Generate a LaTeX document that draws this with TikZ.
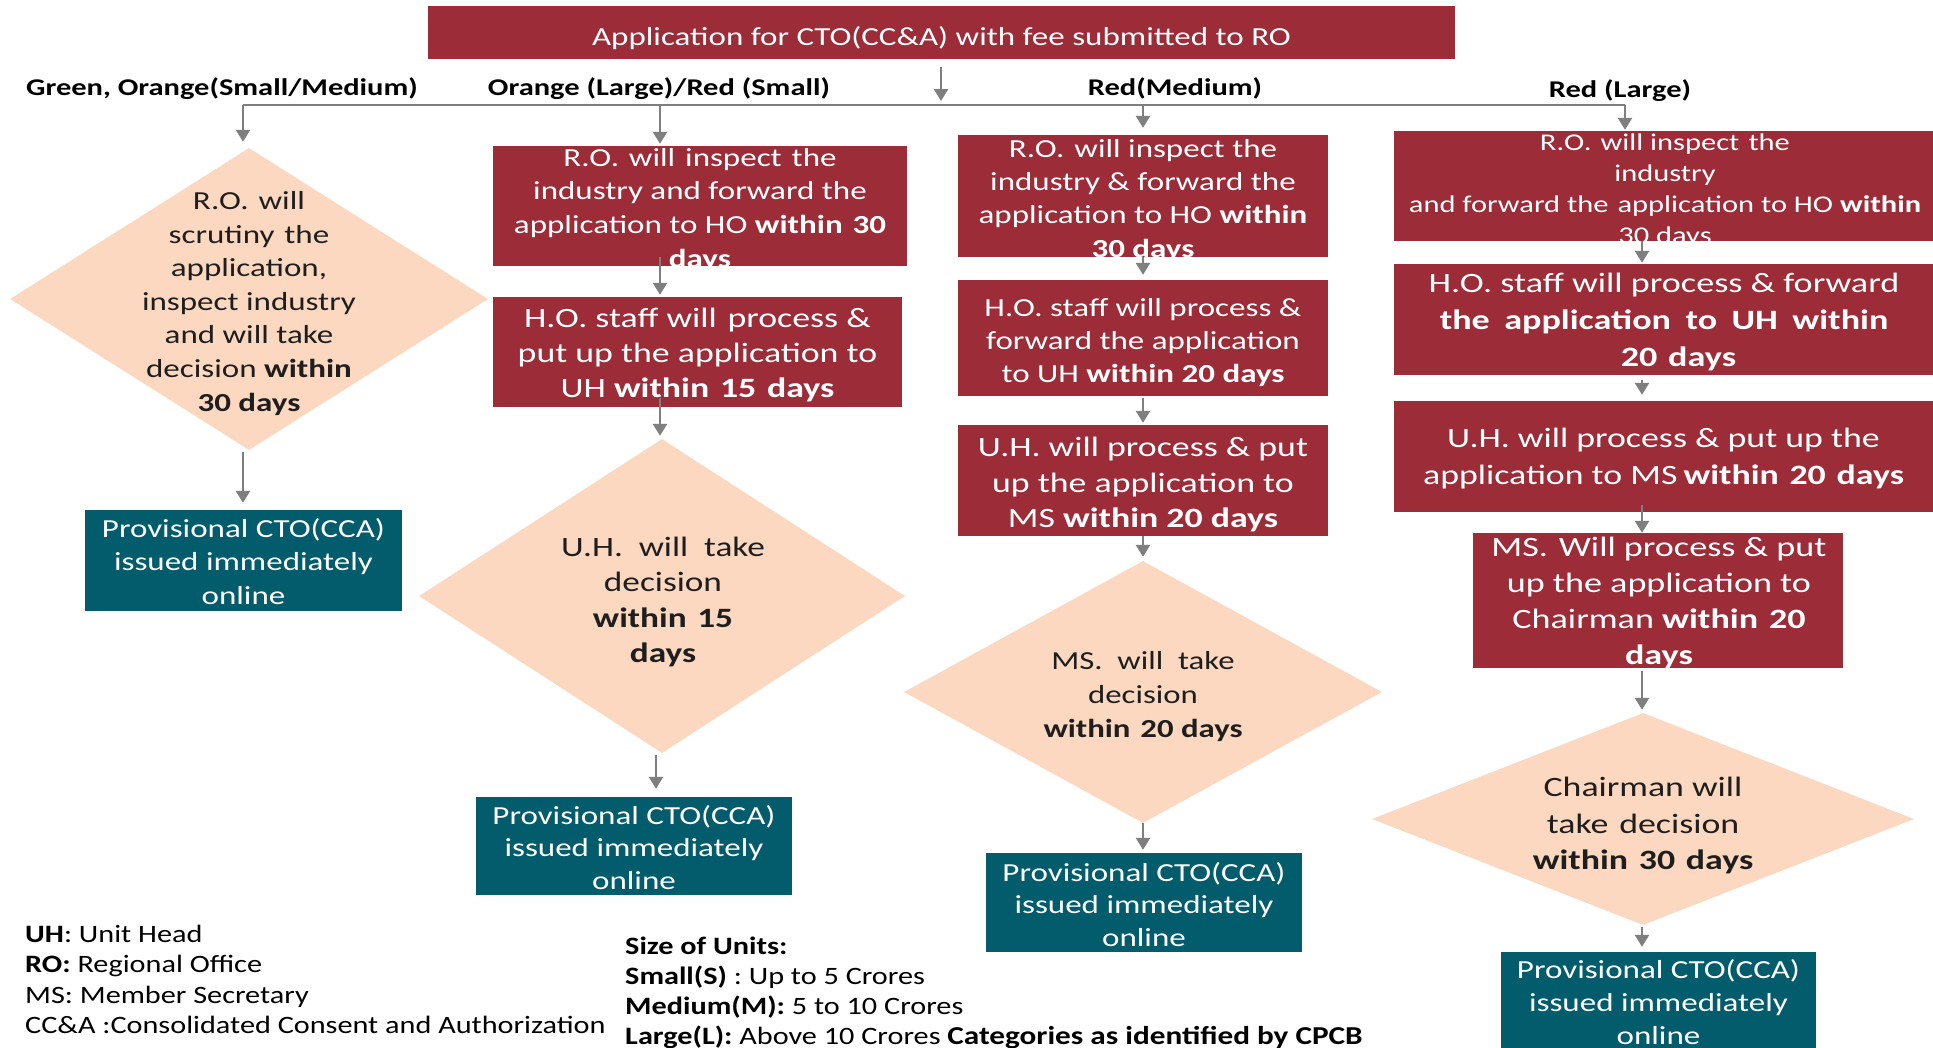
\documentclass[tikz,border=0pt]{standalone}
\usepackage{fontspec}
\setmainfont{Carlito}
\usepackage{graphicx}
\usetikzlibrary{arrows.meta,shapes.geometric,calc}
\definecolor{cred}{HTML}{9B2C38}
\definecolor{cteal}{HTML}{025C6C}
\definecolor{cpeach}{HTML}{FCD8C0}
\definecolor{cgray}{HTML}{7F7F7F}
\definecolor{ctext}{HTML}{1E1E1E}
\newcommand{\tx}[4]{\scalebox{#2}[1]{\fontsize{#1}{#3}\selectfont\begin{tabular}{@{}c@{}}#4\end{tabular}}}
\newcommand{\txl}[4]{\scalebox{#2}[1]{\fontsize{#1}{#3}\selectfont\begin{tabular}{@{}l@{}}#4\end{tabular}}}
\newcommand{\gap}{\hspace{0.3em}}
\begin{document}
\begin{tikzpicture}[x=1pt,y=-1pt,
  redbox/.style={fill=cred,draw=none,inner sep=0pt},
  tealbox/.style={fill=cteal,draw=none,inner sep=0pt},
  dia/.style={shape=diamond,fill=cpeach,draw=none,inner sep=0pt},
  wtxt/.style={inner sep=0pt,text=white,yshift=-2.5pt},
  dtxt/.style={inner sep=0pt,text=ctext,yshift=-2.5pt},
  htxt/.style={inner sep=0pt,text=black,yshift=-2.5pt},
  conn/.style={draw=cgray,line width=2.5pt},
  arr/.style={draw=cgray,line width=2.5pt,-{Triangle[length=12pt,width=14pt]}}]
\fill[white] (0,0) rectangle (1933,1047);
\useasboundingbox (0,0) rectangle (1933,1047);

% top box
\node[redbox,minimum width=1027pt,minimum height=53pt] (top) at (941.5,32.5) {};
\node[wtxt] (topt) at (941.5,36.5) {\tx{26}{1.27}{32}{Application for CTO(CC\&A) with fee submitted to RO}};

% headers
\node[htxt] (h1) at (222,87) {\tx{24}{1.27}{30}{\textbf{Green, Orange(Small/Medium)}}};
\node[htxt] (h2) at (659,87) {\tx{24}{1.27}{30}{\textbf{Orange (Large)/Red (Small)}}};
\node[htxt] (h3) at (1175,87) {\tx{24}{1.27}{30}{\textbf{Red(Medium)}}};
\node[htxt] (h4) at (1620,89) {\tx{24}{1.27}{30}{\textbf{Red (Large)}}};

% branch line
\coordinate (b1) at (243,105);
\coordinate (b2) at (660,105);
\coordinate (b3) at (1143,105);
\coordinate (b4) at (1625,105);
\coordinate (bt) at (941,105);
\draw[conn] (b1) -- (b4);
\draw[arr,shorten <=8pt,shorten >=4pt] (top.south -| bt) -- (bt);

% column 1
\node[dia,minimum width=478pt,minimum height=302pt] (d1) at (249,299) {};
\node[dtxt] (d1t) at (249,301) {\tx{26}{1.27}{33.6}{R.O.\gap will\\scrutiny\gap the\\application,\\inspect industry\\and will take\\decision \textbf{within}\\\textbf{30 days}}};
\node[tealbox,minimum width=317pt,minimum height=101pt] (t1) at (243.5,560.5) {};
\node[wtxt] (t1t) at (243.5,561.5) {\tx{26}{1.27}{33.5}{Provisional CTO(CCA)\\issued immediately\\online}};
\draw[arr,shorten >=6pt] (b1) -- (b1 |- d1.north);
\draw[arr,shorten <=2pt,shorten >=7pt] (d1.south -| b1) -- (t1.north -| b1);

% column 2
\node[redbox,minimum width=414pt,minimum height=120pt] (r21) at (700,206) {};
\node[wtxt] (r21t) at (700,207.5) {\tx{26}{1.27}{33.7}{R.O.\gap will\gap inspect\gap the\\industry and forward the\\application to HO \textbf{within\gap 30}\\\textbf{days}}};
\node[redbox,minimum width=409pt,minimum height=110pt] (r22) at (697.5,352) {};
\node[wtxt] (r22t) at (697.5,353) {\tx{28}{1.28}{35}{H.O. staff will\gap process \&\\put up the application to\\UH \textbf{within\gap 15\gap days}}};
\node[dia,minimum width=486pt,minimum height=314pt] (d2) at (662,596) {};
\node[dtxt] (d2t) at (663,600) {\tx{28}{1.26}{35.3}{U.H.\hspace{0.45em}will\hspace{0.45em}take\\decision\\\textbf{within\gap 15}\\\textbf{days}}};
\node[tealbox,minimum width=316pt,minimum height=98pt] (t2) at (634,846) {};
\node[wtxt] (t2t) at (634,847.5) {\tx{26}{1.27}{32.5}{Provisional CTO(CCA)\\issued immediately\\online}};
\draw[arr,shorten >=2pt] (b2) -- (b2 |- r21.north);
\draw[arr,shorten <=-9pt,shorten >=2pt] (r21.south -| b2) -- (r22.north -| b2);
\draw[arr,shorten <=-9pt,shorten >=3pt] (r22.south -| b2) -- (d2.north -| b2);
\draw[arr,shorten <=2pt,shorten >=8pt] ([xshift=-6pt]d2.south) -- ([xshift=-6pt]d2.south |- t2.north);

% column 3
\node[redbox,minimum width=370pt,minimum height=122pt] (r31) at (1143,196) {};
\node[wtxt] (r31t) at (1143,198) {\tx{26}{1.27}{33.3}{R.O.\gap will inspect the\\industry \& forward the\\application to HO \textbf{within}\\\textbf{30 days}}};
\node[redbox,minimum width=370pt,minimum height=116pt] (r32) at (1143,338) {};
\node[wtxt] (r32t) at (1143,340) {\tx{26}{1.27}{33}{H.O. staff will process \&\\forward the application\\to UH \textbf{within 20 days}}};
\node[redbox,minimum width=370pt,minimum height=111pt] (r33) at (1143,480.5) {};
\node[wtxt] (r33t) at (1143,482.5) {\tx{28}{1.28}{35.5}{U.H. will process \& put\\up the application to\\MS \textbf{within 20 days}}};
\node[dia,minimum width=478pt,minimum height=262pt] (d3) at (1143,692) {};
\node[dtxt] (d3t) at (1143,694) {\tx{26}{1.26}{34}{MS.\hspace{0.45em}will\hspace{0.45em}take\\decision\\\textbf{within\gap 20 days}}};
\node[tealbox,minimum width=316pt,minimum height=99pt] (t3) at (1144,902.5) {};
\node[wtxt] (t3t) at (1144,904.5) {\tx{26}{1.27}{32.5}{Provisional CTO(CCA)\\issued immediately\\online}};
\draw[arr,shorten >=7pt] (b3) -- (b3 |- r31.north);
\draw[arr,shorten >=5pt] (r31.south -| b3) -- (r32.north -| b3);
\draw[arr,shorten <=2pt,shorten >=2pt] (r32.south -| b3) -- (r33.north -| b3);
\draw[arr,shorten >=4pt] (r33.south -| b3) -- (d3.north -| b3);
\draw[arr,shorten >=3pt] (d3.south) -- (d3.south |- t3.north);

% column 4
\coordinate (k4) at (1642,105);
\node[redbox,minimum width=539pt,minimum height=110pt] (r41) at (1663.5,186) {};
\node[wtxt] (r41t) at (1665,188.5) {\tx{24}{1.27}{31}{R.O.\gap will inspect\gap the\\industry\\and forward the\gap application to HO \textbf{within}\\30 days}};
\node[redbox,minimum width=539pt,minimum height=111pt] (r42) at (1663.5,319.5) {};
\node[wtxt] (r42t) at (1664,320) {\tx{28}{1.29}{37}{H.O. staff will process \& forward\\\textbf{the\hspace{0.4em}application\hspace{0.4em}to\hspace{0.4em}UH\hspace{0.4em}within}\hspace{0.6em}\\\hspace{0.8em}\textbf{20\gap days}}};
\node[redbox,minimum width=539pt,minimum height=111pt] (r43) at (1663.5,456.5) {};
\node[wtxt] (r43t) at (1663.5,456.5) {\tx{28}{1.28}{37}{U.H. will process \& put up the\\application to MS\,\textbf{within\gap 20\gap days}}};
\node[redbox,minimum width=370pt,minimum height=135pt] (r44) at (1658,600.5) {};
\node[wtxt] (r44t) at (1659,601) {\tx{28}{1.29}{36}{MS.\gap Will process \& put\\up the application to\\Chairman \textbf{within\gap 20}\\\textbf{days}}};
\node[dia,minimum width=542pt,minimum height=212pt] (d4) at (1643,819) {};
\node[dtxt] (d4t) at (1643,823.5) {\tx{28}{1.28}{36.5}{Chairman will\\take\gap decision\\\textbf{within\gap 30\gap days}}};
\node[tealbox,minimum width=315pt,minimum height=98pt] (t4) at (1658.5,1001) {};
\node[wtxt] (t4t) at (1658.5,1002) {\tx{26}{1.27}{33}{Provisional CTO(CCA)\\issued immediately\\online}};
\draw[arr,shorten >=1pt] (b4) -- (b4 |- r41.north);
\draw[arr,shorten >=1pt] (r41.south -| k4) -- (r42.north -| k4);
\draw[arr,shorten <=5pt,shorten >=6pt] (r42.south -| k4) -- (r43.north -| k4);
\draw[arr,shorten <=-7pt,shorten >=0pt] (r43.south -| k4) -- (r44.north -| k4);
\draw[arr,shorten <=3pt,shorten >=3pt] (r44.south -| k4) -- (d4.north -| k4);
\draw[arr,shorten <=2pt,shorten >=5pt] (d4.south -| k4) -- (t4.north -| k4);

% legends
\node[htxt,anchor=west] (leg) at (25,979.5) {\txl{25}{1.21}{30.5}{\textbf{UH}: Unit Head\\\textbf{RO:} Regional Office\\MS: Member Secretary\\CC\&A :Consolidated Consent and Authorization}};
\node[htxt,anchor=west] (size) at (625,990.5) {\txl{25}{1.21}{30}{\textbf{Size of Units:}\\\textbf{Small(S)} : Up to 5 Crores\\\textbf{Medium(M):} 5 to 10 Crores\\\textbf{Large(L):} Above 10 Crores {\fontsize{25.8}{30}\selectfont\textbf{Categories as identified by CPCB}}}};
\end{tikzpicture}
\end{document}
